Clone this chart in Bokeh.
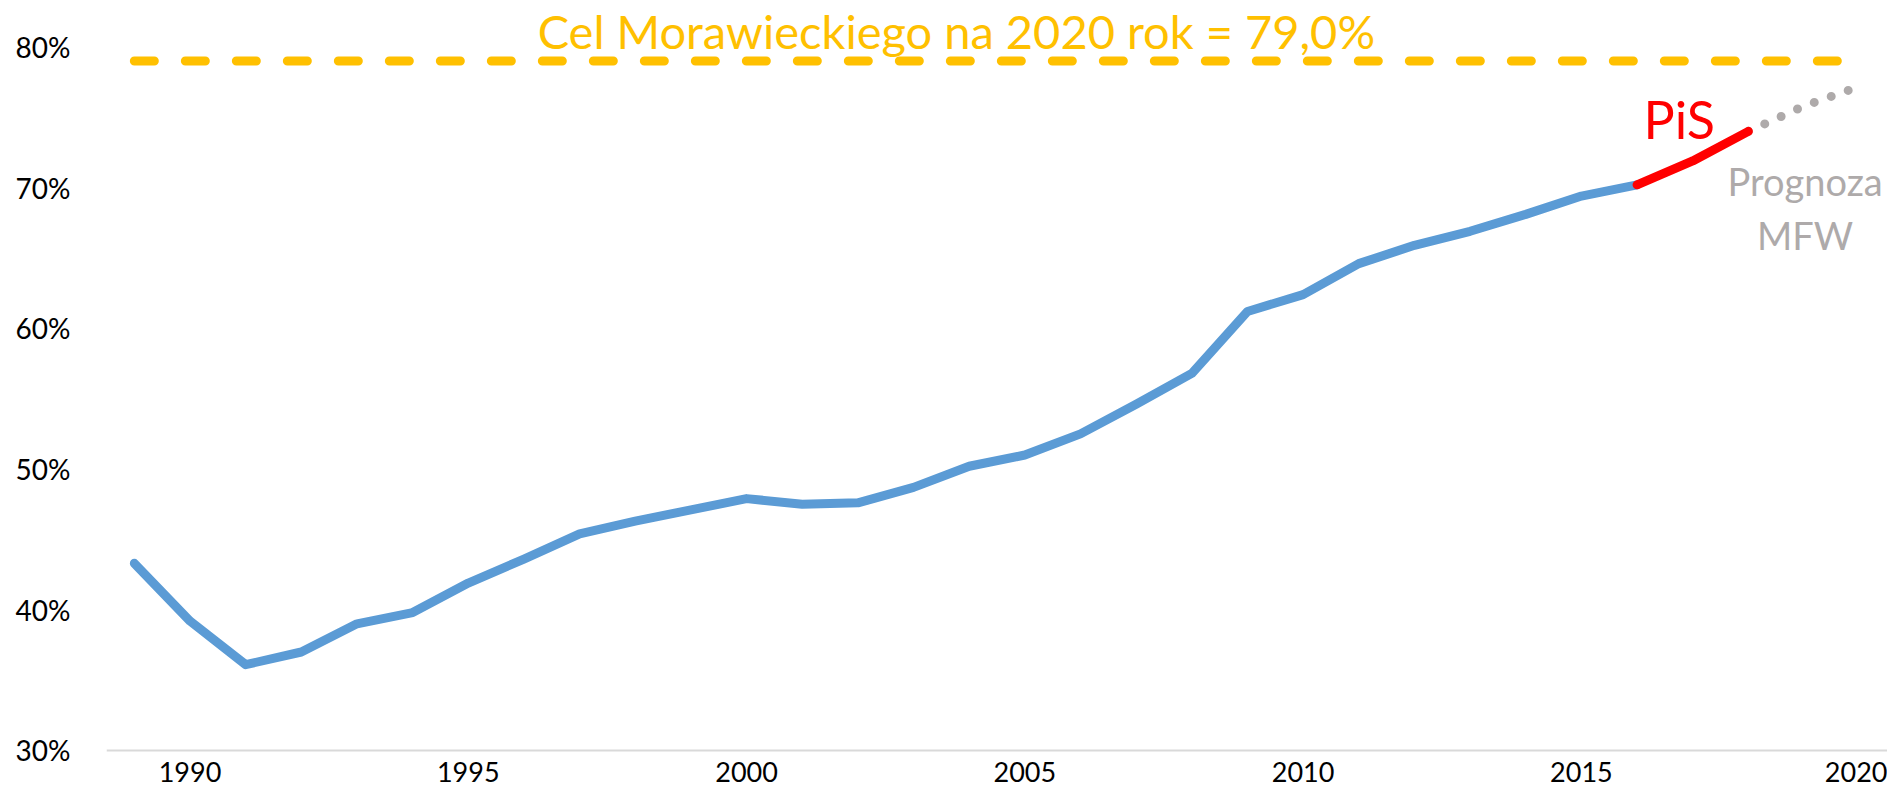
from bokeh.plotting import figure
from bokeh.models import Range1d, FixedTicker, Label
from bokeh.embed import file_html
from bokeh.resources import INLINE

# ---- data ----
years = list(range(1989, 2017))
rate = [43.3, 39.2, 36.1, 37.0, 39.0, 39.8, 41.9, 43.6, 45.4, 46.3,
        47.1, 47.9, 47.5, 47.6, 48.7, 50.2, 51.0, 52.5, 54.6, 56.8,
        61.2, 62.4, 64.6, 65.9, 66.9, 68.1, 69.4, 70.2]
pis_years = [2016, 2017, 2018]
pis_rate = [70.2, 71.9, 74.0]
fc_years = [2018, 2019, 2020]
fc_rate = [74.0, 75.8, 77.2]
target_years = list(range(1989, 2021))
target_rate = [79.0] * len(target_years)
y_ticks = [30, 40, 50, 60, 70, 80]
y_labels = ["30%", "40%", "50%", "60%", "70%", "80%"]
x_ticks = [1990, 1995, 2000, 2005, 2010, 2015, 2020]
title_text = "Cel Morawieckiego na 2020 rok = 79,0%"

FONT = "Lato"

p = figure(width=1887, height=790, output_backend="svg", toolbar_location=None,
           title=None, x_range=Range1d(1988.5, 2020.5), y_range=Range1d(27.157, 83.30),
           min_border_left=106, min_border_right=0, min_border_top=0, min_border_bottom=0)
p.outline_line_color = None
p.xgrid.visible = False
p.ygrid.visible = False
p.background_fill_color = "white"
p.border_fill_color = "white"

# axes
p.xaxis.fixed_location = 30
p.xaxis.ticker = FixedTicker(ticks=x_ticks)
p.xaxis.axis_line_color = "#D9D9D9"
p.xaxis.axis_line_width = 2
p.xaxis.major_tick_line_color = None
p.xaxis.minor_tick_line_color = None
p.xaxis.major_label_text_font = FONT
p.xaxis.major_label_text_font_size = "27px"
p.xaxis.major_label_text_color = "#000000"
p.xaxis.major_label_standoff = 6

p.yaxis.ticker = FixedTicker(ticks=y_ticks)
p.yaxis.major_label_overrides = {t: l for t, l in zip(y_ticks, y_labels)}
p.yaxis.axis_line_color = None
p.yaxis.major_tick_line_color = None
p.yaxis.minor_tick_line_color = None
p.yaxis.major_label_text_font = FONT
p.yaxis.major_label_text_font_size = "28px"
p.yaxis.major_label_text_color = "#000000"
p.yaxis.major_label_standoff = 30

# target dashed line
p.line(target_years, target_rate, line_color="#FFC000", line_width=9,
       line_dash="20 31", line_cap="round")
# main series
p.line(years, rate, line_color="#5B9BD5", line_width=9, line_cap="round", line_join="round")
# forecast (dotted grey)
p.line(fc_years, fc_rate, line_color="#AEAAAA", line_width=9, line_dash="0 18",
       line_cap="round")
# PiS segment
p.line(pis_years, pis_rate, line_color="#FF0000", line_width=9, line_cap="round",
       line_join="round")

# texts
p.add_layout(Label(x=2003.77, y=81.1, text=title_text, text_align="center",
                   text_baseline="alphabetic", text_font=FONT, text_font_size="47px",
                   text_color="#FFC000"))
p.add_layout(Label(x=2016.76, y=74.85, text="PiS", text_align="center",
                   text_baseline="alphabetic", text_font=FONT, text_font_size="52px",
                   text_color="#FF0000"))
p.add_layout(Label(x=2019.02, y=70.45, text="Prognoza", text_align="center",
                   text_baseline="alphabetic", text_font=FONT, text_font_size="38px",
                   text_color="#AEAAAA"))
p.add_layout(Label(x=2019.02, y=66.6, text="MFW", text_align="center",
                   text_baseline="alphabetic", text_font=FONT, text_font_size="38px",
                   text_color="#AEAAAA"))

open("out.html", "w").write(file_html(p, INLINE))
